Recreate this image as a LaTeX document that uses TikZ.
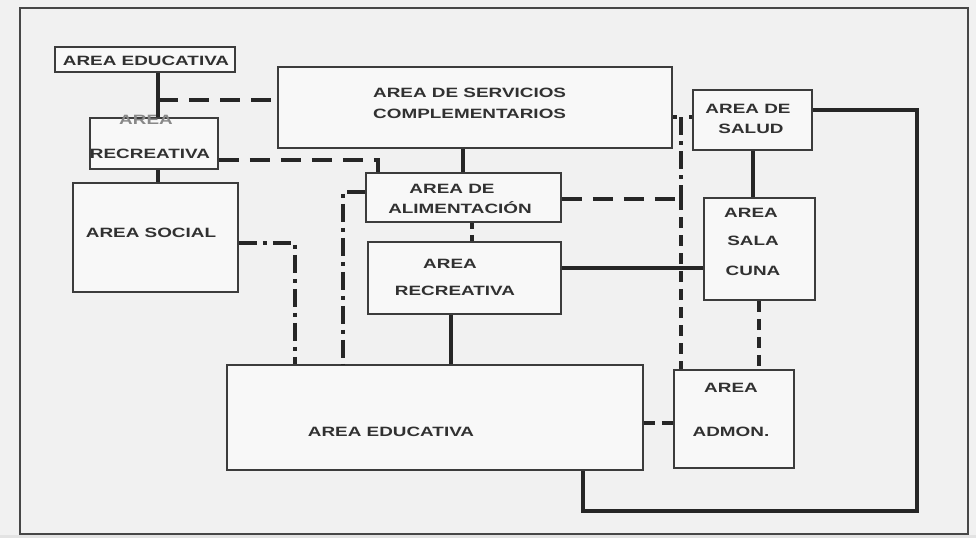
\documentclass[tikz,border=0pt]{standalone}
\usepackage{fontspec}
\newfontfamily\handfont[FakeStretch=1.4,UprightFont=*-Bold]{Liberation Sans}
\definecolor{ink}{HTML}{262626}
\definecolor{paper}{HTML}{F1F1F1}
\begin{document}
\begin{tikzpicture}[x=1pt,y=-1pt,
  box/.style={draw=ink!90, line width=1.9pt, fill=paper!50!white, rectangle, inner sep=0pt},
  lbl/.style={font=\handfont\fontsize{13.5}{16}\selectfont, text=ink!95, inner sep=0pt, text height=10pt, text depth=0pt},
  solidc/.style={draw=ink, line width=4.6pt},
  dashc/.style={draw=ink, line width=4.6pt, dash pattern=on 20pt off 11pt},
  dashdotc/.style={draw=ink, line width=4.2pt, dash pattern=on 18pt off 6pt on 4pt off 6pt},
  shortc/.style={draw=ink, line width=4.2pt, dash pattern=on 11pt off 7pt},
  dotc/.style={draw=ink, line width=3.8pt, dash pattern=on 4pt off 12pt}]
\useasboundingbox (0,0) rectangle (976,538);
\fill[paper] (0,0) rectangle (976,538);
\fill[paper!88!gray] (0,535) rectangle (976,538);
\draw[ink!85, line width=1.3pt] (20,8) rectangle (968,534);

% boxes
\node[box, minimum width=180pt, minimum height=25pt] (edu1) at (145,59.5) {};
\node[box, minimum width=128pt, minimum height=51pt] (rec1) at (154,143.5) {};
\node[box, minimum width=165pt, minimum height=109pt] (soc) at (155.5,237.5) {};
\node[box, minimum width=394pt, minimum height=81pt] (serv) at (475,107.5) {};
\node[box, minimum width=119pt, minimum height=60pt] (salud) at (752.5,120) {};
\node[box, minimum width=195pt, minimum height=49pt] (alim) at (463.5,197.5) {};
\node[box, minimum width=193pt, minimum height=72pt] (rec2) at (464.5,278) {};
\node[box, minimum width=111pt, minimum height=102pt] (cuna) at (759.5,249) {};
\node[box, minimum width=416pt, minimum height=105pt] (edu2) at (435,417.5) {};
\node[box, minimum width=120pt, minimum height=98pt] (admon) at (734,419) {};

% labels
\node[lbl] (t-edu1) at (146,60) {AREA EDUCATIVA};
\node[lbl, text=ink!55] (t-rec1a) at (146,119) {AREA};
\node[lbl] (t-rec1b) at (150,153) {RECREATIVA};
\node[lbl] (t-soc) at (151,232) {AREA SOCIAL};
\node[lbl, anchor=west] (t-serv1) at (373,92) {AREA DE SERVICIOS};
\node[lbl, anchor=west] (t-serv2) at (373,113) {COMPLEMENTARIOS};
\node[lbl] (t-sal1) at (748,108) {AREA DE};
\node[lbl] (t-sal2) at (751,128) {SALUD};
\node[lbl] (t-ali1) at (452,188) {AREA DE};
\node[lbl] (t-ali2) at (460,208) {ALIMENTACIÓN};
\node[lbl] (t-rec2a) at (450,263) {AREA};
\node[lbl] (t-rec2b) at (455,290) {RECREATIVA};
\node[lbl] (t-cun1) at (751,212) {AREA};
\node[lbl] (t-cun2) at (753,240) {SALA};
\node[lbl] (t-cun3) at (753,270) {CUNA};
\node[lbl] (t-edu2) at (391,431) {AREA EDUCATIVA};
\node[lbl] (t-adm1) at (731,387) {AREA};
\node[lbl] (t-adm2) at (731,431) {ADMON.};

% bend / junction coordinates
\coordinate (pA) at (158,100);
\coordinate (pD) at (378,160);
\coordinate (pE) at (463,160);
\coordinate (pF) at (472,232);
\coordinate (pG) at (681,199);
\coordinate (pH) at (681,117);
\coordinate (pI) at (630,268);
\coordinate (pJ) at (753,175);
\coordinate (pK) at (759,335);
\coordinate (pL) at (660,423);
\coordinate (pM) at (451,340);
\coordinate (pN) at (295,243);
\coordinate (pO) at (343,192);
\coordinate (pP1) at (917,110);
\coordinate (pP2) at (583,511);

% connectors
\draw[solidc] (edu1.south -| pA) -- (rec1.north -| pA);
\draw[dashc] (pA) -- (pA -| serv.west);
\draw[solidc] (rec1.south -| pA) -- (soc.north -| pA);
\draw[dashc] (rec1.east |- pD) -- (pD) -- (alim.north -| pD);
\draw[solidc] (serv.south -| pE) -- (alim.north -| pE);
\draw[shortc, dash pattern=on 6pt off 6pt] (alim.south -| pF) -- (rec2.north -| pF);
\draw[dashc] (alim.east |- pG) -- (pG);
\draw[dotc] (serv.east |- pH) -- (salud.west |- pH);
\draw[dashdotc] (pH) -- (pG);
\draw[shortc] (pG) -- (admon.north -| pG);
\draw[solidc] (rec2.east |- pI) -- (cuna.west |- pI);
\draw[solidc] (salud.south -| pJ) -- (cuna.north -| pJ);
\draw[shortc] (cuna.south -| pK) -- (admon.north -| pK);
\draw[shortc] (edu2.east |- pL) -- (admon.west |- pL);
\draw[solidc] (rec2.south -| pM) -- (edu2.north -| pM);
\draw[dashdotc] (soc.east |- pN) -- (pN) -- (edu2.north -| pN);
\draw[dashdotc] (alim.west |- pO) -- (pO) -- (edu2.north -| pO);
\draw[solidc] (salud.east |- pP1) -- (pP1) |- (pP2) -- (edu2.south -| pP2);
\end{tikzpicture}
\end{document}
